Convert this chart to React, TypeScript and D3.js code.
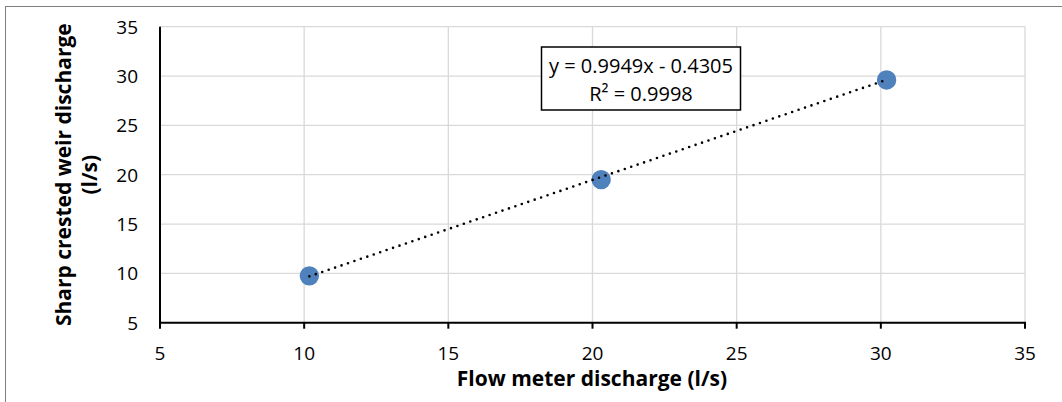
import React from "react";
import * as d3 from "d3";

const flowMeter = [10.18, 20.3, 30.2];
const weirDischarge = [9.75, 19.5, 29.6];
const xTicks = [5, 10, 15, 20, 25, 30, 35];
const yTicks = [5, 10, 15, 20, 25, 30, 35];
const slope = 0.9949;
const intercept = -0.4305;
const equationLabel = "y = 0.9949x - 0.4305";
const r2Label = "R² = 0.9998";
const xTitle = "Flow meter discharge (l/s)";
const yTitleLines = ["Sharp crested weir discharge", "(l/s)"];

const W = 1062;
const H = 402;
const FONT = "'Open Sans', Lato, sans-serif";

export default function App() {
  const x = d3.scaleLinear().domain([5, 35]).range([160, 1025]);
  const y = d3.scaleLinear().domain([5, 35]).range([322.7, 26.7]);
  const xMin = d3.min(flowMeter) as number;
  const xMax = d3.max(flowMeter) as number;
  const trend = d3.line<number>()
    .x((d) => x(d))
    .y((d) => y(slope * d + intercept));

  return (
    <svg width={W} height={H} style={{ position: "absolute", left: 0, top: 0, background: "#fff" }} fontFamily={FONT}>
      <rect x={5.5} y={6.5} width={1070} height={420} fill="#fff" stroke="#7f7f7f" strokeWidth={1} />
      {xTicks.slice(1).map((t) => (
        <line key={"gx" + t} x1={x(t)} x2={x(t)} y1={y(35)} y2={y(5)} stroke="#d9d9d9" strokeWidth={1.3} />
      ))}
      {yTicks.slice(1).map((t) => (
        <line key={"gy" + t} x1={x(5)} x2={x(35)} y1={y(t)} y2={y(t)} stroke="#d9d9d9" strokeWidth={1.3} />
      ))}
      <line x1={x(5)} x2={x(5)} y1={y(35)} y2={y(5) + 1} stroke="#000" strokeWidth={2} />
      <line x1={x(5) - 1} x2={x(35) + 1} y1={y(5)} y2={y(5)} stroke="#000" strokeWidth={2} />
      {xTicks.map((t) => (
        <line key={"tx" + t} x1={x(t)} x2={x(t)} y1={y(5)} y2={y(5) + 6} stroke="#000" strokeWidth={2} />
      ))}
      {xTicks.map((t) => (
        <text key={"lx" + t} x={x(t)} y={360} textAnchor="middle" fontSize={19} fill="#000">{t}</text>
      ))}
      {yTicks.map((t) => (
        <text key={"ly" + t} x={138} y={y(t) + 7} textAnchor="end" fontSize={19} fill="#000">{t}</text>
      ))}
      <text x={592} y={386} textAnchor="middle" fontSize={21} fontWeight="bold" fill="#000">{xTitle}</text>
      <g transform={`translate(0, ${(y(5) + y(35)) / 2}) rotate(-90)`}>
        <text x={0} y={71} textAnchor="middle" fontSize={21} fontWeight="bold" fill="#000">{yTitleLines[0]}</text>
        <text x={0} y={97} textAnchor="middle" fontSize={21} fontWeight="bold" fill="#000">{yTitleLines[1]}</text>
      </g>
      {flowMeter.map((v, i) => (
        <circle key={"p" + i} cx={x(v)} cy={y(weirDischarge[i])} r={9.7} fill="#4F81BD" />
      ))}
      <path d={trend([xMin, xMax]) as string} fill="none" stroke="#000" strokeWidth={2.6} strokeLinecap="round" strokeDasharray="0 6.8" />
      <rect x={541.5} y={47} width={199} height={63} fill="#fff" stroke="#000" strokeWidth={1.5} />
      <text x={641} y={73} textAnchor="middle" fontSize={20} fill="#000">{equationLabel}</text>
      <text x={641} y={101} textAnchor="middle" fontSize={20} fill="#000">{r2Label}</text>
    </svg>
  );
}
